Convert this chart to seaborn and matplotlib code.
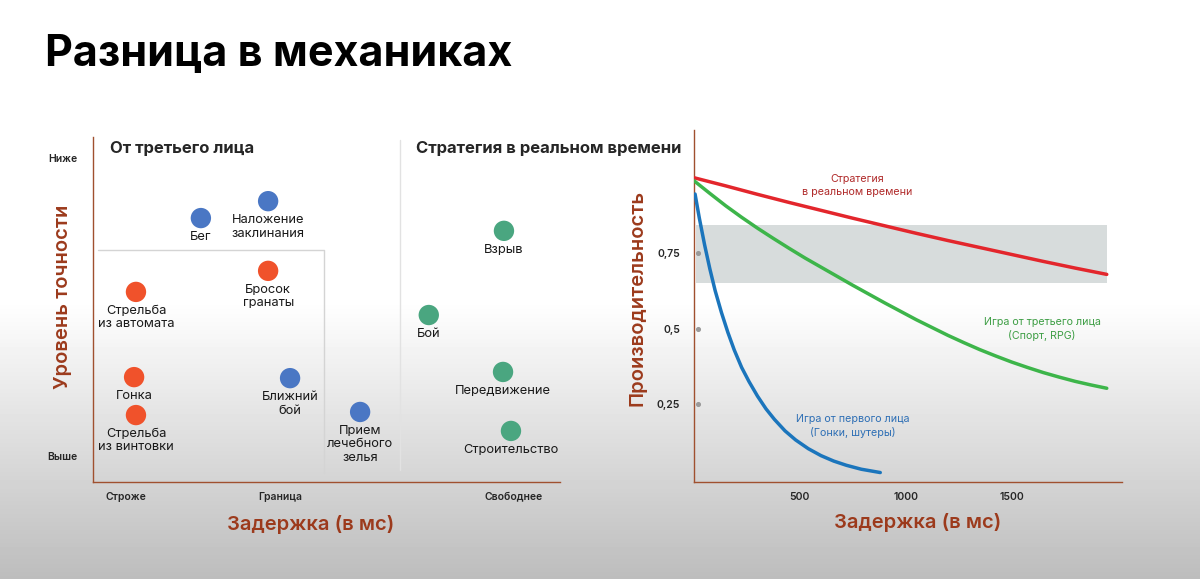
import numpy as np
import pandas as pd
import matplotlib
matplotlib.use('Agg')
import matplotlib.pyplot as plt
import seaborn as sns

# --- левая панель: механики (условная шкала 0..100) ---
mech_names = ['Бег', 'Наложение\nзаклинания', 'Ближний\nбой', 'Прием\nлечебного\nзелья',
              'Стрельба\nиз автомата', 'Бросок\nгранаты', 'Гонка', 'Стрельба\nиз винтовки',
              'Взрыв', 'Бой', 'Передвижение', 'Строительство']
mech_group = ['blue'] * 4 + ['orange'] * 4 + ['green'] * 4
mech_latency = [23.1, 37.5, 42.2, 57.2, 9.2, 37.5, 8.8, 9.2, 88.0, 71.9, 87.8, 89.5]
mech_accuracy = [76.5, 81.4, 30.1, 20.3, 55.1, 61.2, 30.4, 19.4, 72.8, 48.4, 31.9, 14.8]

lat_ticks = [7.1, 40.0, 90.1]
lat_labels = ['Строже', 'Граница', 'Свободнее']
acc_ticks = [7.5, 93.9]
acc_labels = ['Выше', 'Ниже']

# --- правая панель: производительность от задержки ---
rts_ms = [0, 150, 300, 450, 600, 750, 900, 1050, 1200, 1350, 1500, 1650, 1800, 1950]
rts_perf = [1.0, 0.973, 0.945, 0.918, 0.892, 0.866, 0.841, 0.816, 0.792, 0.769, 0.746, 0.723, 0.701, 0.68]
tps_ms = [0, 75, 150, 225, 300, 375, 450, 525, 600, 675, 750, 825, 900, 975, 1050, 1125, 1200,
          1275, 1350, 1425, 1500, 1575, 1650, 1725, 1800, 1875, 1950]
tps_perf = [0.99, 0.948, 0.907, 0.869, 0.833, 0.799, 0.766, 0.734, 0.704, 0.674, 0.644, 0.615,
            0.586, 0.558, 0.530, 0.504, 0.478, 0.454, 0.431, 0.41, 0.390, 0.372, 0.355, 0.340,
            0.326, 0.314, 0.303]
fps_ms = [5, 25, 50, 75, 100, 130, 160, 190, 225, 260, 300, 340, 380, 430, 480, 540, 600, 660,
          720, 790, 880]
fps_perf = [0.946, 0.867, 0.778, 0.698, 0.626, 0.553, 0.488, 0.43, 0.372, 0.325, 0.277, 0.235,
            0.2, 0.162, 0.132, 0.103, 0.08, 0.062, 0.048, 0.035, 0.024]

perf_ticks = [0.25, 0.5, 0.75]
perf_labels = ['0,25', '0,5', '0,75']
ms_ticks = [500, 1000, 1500]
band_ms = [9, 1950]
band_low = 0.651
band_high = 0.844

sns.set_theme(style='white')
plt.rcParams['font.family'] = ['Inter', 'DejaVu Sans']

axis_col = '#a0502f'
label_col = '#9c3a1c'

fig = plt.figure(figsize=(12, 5.79), dpi=100)

# фон с градиентом
bg = fig.add_axes([0, 0, 1, 1], zorder=-10)
rows = np.linspace(0, 1, 579)
shade = np.where(rows < 0.52, 1.0, 1.0 - 0.26 * (rows - 0.52) / 0.48)
bg.imshow(shade[:, None], aspect='auto', cmap='gray', vmin=0, vmax=1, extent=[0, 1, 0, 1])
bg.axis('off')

fig.text(45 / 1200, 1 - 66 / 579, 'Разница в механиках', fontsize=31, fontweight='bold',
         color='black', va='baseline', ha='left')

# ---------- левая панель ----------
ax1 = fig.add_axes([93 / 1200, 97 / 579, 467 / 1200, 345 / 579])
ax1.set_facecolor('none')
mech = pd.DataFrame({'name': mech_names, 'group': mech_group,
                     'latency': mech_latency, 'accuracy': mech_accuracy})
sns.scatterplot(data=mech, x='latency', y='accuracy', hue='group',
                palette={'blue': '#4a77c4', 'orange': '#f0522b', 'green': '#4aa680'},
                s=215, edgecolor='none', legend=False, ax=ax1, zorder=3)
for _, r in mech.iterrows():
    ax1.annotate(r['name'], (r['latency'], r['accuracy']), xytext=(0, -13),
                 textcoords='offset pixels', ha='center', va='top', fontsize=9.3,
                 linespacing=1.15, color='#1a1a1a')

ax1.set_xlim(0, 100)
ax1.set_ylim(0, 100)
# рамка "От третьего лица" и разделитель
ax1.plot([1.1, 49.5, 49.5], [67.2, 67.2, 2.6], color='#d4d4d4', lw=1, zorder=1)
ax1.plot([65.7, 65.7], [3.5, 99.1], color='#e2e2e2', lw=1, zorder=1)

ax1.text(3.6, 96.8, 'От третьего лица', fontsize=12, fontweight='bold', va='center', ha='left')
ax1.text(69.2, 96.8, 'Стратегия в реальном времени', fontsize=12, fontweight='bold',
         va='center', ha='left')

ax1.set_xticks(lat_ticks, lat_labels)
ax1.set_yticks(acc_ticks, acc_labels)
ax1.tick_params(axis='x', length=0, pad=7, labelsize=7.5)
ax1.tick_params(axis='y', length=0, pad=11, labelsize=7.5)
for t in ax1.get_xticklabels() + ax1.get_yticklabels():
    t.set_fontweight('semibold')
for s in ['top', 'right']:
    ax1.spines[s].set_visible(False)
for s in ['left', 'bottom']:
    ax1.spines[s].set_color(axis_col)
    ax1.spines[s].set_linewidth(1)

ax1.set_xlabel('Задержка (в мс)', fontsize=14.5, color=label_col, fontweight='semibold')
ax1.xaxis.set_label_coords(0.465, -0.122)
ax1.xaxis.label.set_va('center')
ax1.set_ylabel('Уровень точности', fontsize=14.5, color=label_col, fontweight='semibold')
ax1.yaxis.set_label_coords(-0.064, 0.536)
ax1.yaxis.label.set_va('center')

# ---------- правая панель ----------
ax2 = fig.add_axes([694 / 1200, 97 / 579, 428 / 1200, 352 / 579])
ax2.set_facecolor('none')
ax2.fill_between(band_ms, band_low, band_high, color='#d7dcdc', lw=0, zorder=1)

curves = pd.concat([
    pd.DataFrame({'ms': rts_ms, 'perf': rts_perf, 'kind': 'rts'}),
    pd.DataFrame({'ms': tps_ms, 'perf': tps_perf, 'kind': 'tps'}),
    pd.DataFrame({'ms': fps_ms, 'perf': fps_perf, 'kind': 'fps'}),
])
sns.lineplot(data=curves, x='ms', y='perf', hue='kind',
             palette={'rts': '#e3262c', 'tps': '#3db54a', 'fps': '#1b75bc'},
             lw=2.5, legend=False, ax=ax2, zorder=3, solid_joinstyle='round')

ax2.scatter([19] * len(perf_ticks), perf_ticks, s=7, color='#9a9a9a', zorder=4)

ax2.text(770, 0.973, 'Стратегия\nв реальном времени', color='#b02a2a', fontsize=7.7,
         ha='center', va='center', linespacing=1.4)
ax2.text(1644, 0.499, 'Игра от третьего лица\n(Спорт, RPG)', color='#3e9e45', fontsize=7.7,
         ha='center', va='center', linespacing=1.4)
ax2.text(751, 0.178, 'Игра от первого лица\n(Гонки, шутеры)', color='#2e6fb5', fontsize=7.7,
         ha='center', va='center', linespacing=1.4)

ax2.set_xlim(0, 2022)
ax2.set_ylim(-0.0073, 1.158)
ax2.set_xticks(ms_ticks, [str(v) for v in ms_ticks])
ax2.set_yticks(perf_ticks, perf_labels)
ax2.tick_params(axis='x', length=0, pad=7, labelsize=7.5)
ax2.tick_params(axis='y', length=0, pad=10, labelsize=7.5)
for t in ax2.get_xticklabels() + ax2.get_yticklabels():
    t.set_fontweight('semibold')
for s in ['top', 'right']:
    ax2.spines[s].set_visible(False)
for s in ['left', 'bottom']:
    ax2.spines[s].set_color(axis_col)
    ax2.spines[s].set_linewidth(1)

ax2.set_xlabel('Задержка (в мс)', fontsize=14.5, color=label_col, fontweight='semibold')
ax2.xaxis.set_label_coords(0.523, -0.114)
ax2.xaxis.label.set_va('center')
ax2.set_ylabel('Производительность', fontsize=14.5, color=label_col, fontweight='semibold')
ax2.yaxis.set_label_coords(-0.131, 0.524)
ax2.yaxis.label.set_va('center')

fig.savefig('out.png', dpi=100)
